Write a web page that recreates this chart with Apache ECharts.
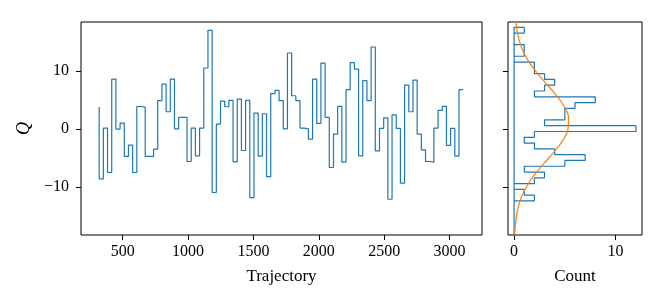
<!DOCTYPE html>
<html><head><meta charset="utf-8">
<script src="https://cdn.jsdelivr.net/npm/echarts@6/dist/echarts.min.js"></script>
<style>html,body{margin:0;padding:0;background:#fff}#c{width:664px;height:302px}</style>
</head><body><div id="c"></div>
<script>
// Trajectory numbers (x) and topological charge Q (y)
const trajectory = [
  320,352,384,416,448,480,512,544,576,608,
  640,672,704,736,768,800,832,864,896,928,
  960,992,1024,1056,1088,1120,1152,1184,1216,1248,
  1280,1312,1344,1376,1408,1440,1472,1504,1536,1568,
  1600,1632,1664,1696,1728,1760,1792,1824,1856,1888,
  1920,1952,1984,2016,2048,2080,2112,2144,2176,2208,
  2240,2272,2304,2336,2368,2400,2432,2464,2496,2528,
  2560,2592,2624,2656,2688,2720,2752,2784,2816,2848,
  2880,2912,2944,2976,3008,3040,3072,3104
];
const charge = [
  3.8, -8.6, 0.17, -7.5, 8.64, 0.0, 1.03, -4.73, -2.77, -7.5,
  3.9, 3.8, -4.73, -4.73, -3.47, 4.9, 7.78, 2.99, 8.64, 0.05,
  2.01, 2.01, -5.6, 0.17, -4.62, 0.17, 10.55, 17.07, -10.96, 0.86,
  4.84, 3.86, 4.95, -5.66, 5.18, -3.7, 4.95, -11.83, 2.76, -4.68,
  2.65, -8.2, 6.11, 6.68, 4.9, 0.05, 13.14, 5.76, 4.9, 0.17,
  0.05, -1.74, 8.64, 0.97, 11.41, 2.01, -6.64, -0.87, 3.92, -5.71,
  6.8, 11.47, 10.37, -4.62, 8.36, 4.9, 14.18, -3.75, 0.11, 1.95,
  -12.12, 2.47, 0.11, -9.35, 7.61, 2.99, 8.47, -0.87, -3.58, -5.6,
  -5.71, 0.17, 3.22, 3.92, -2.83, 0.11, -4.68, 6.8
];
// Histogram of Q (horizontal): bin edges (Q) and counts per bin
const binEdges = [
  -18.42,-17.42,-16.42,-15.42,-14.42,-13.42,-12.42,-11.42,-10.42,-9.42,
  -8.42,-7.42,-6.42,-5.42,-4.42,-3.42,-2.42,-1.42,-0.42,0.58,
  1.58,2.58,3.58,4.58,5.58,6.58,7.58,8.58,9.58,10.58,
  11.58,12.58,13.58,14.58,15.58,16.58,17.58
];
const binCounts = [
  0,0,0,0,0,0,2,1,0,2,
  3,1,5,7,4,2,1,2,12,3,
  5,5,6,8,2,3,4,3,2,2,
  0,1,1,0,0,1
];
// Orange curve: Q positions and counts
const curveQ = [-19,-18,-16,-14,-12,-10,-8,-6,-4,-2,0,2,4,6,8,10,12,14,16,18,19];
const curveCount = [0.04,0.07,0.16,0.34,0.67,1.2,1.96,2.91,3.92,4.78,5.31,5.36,4.9,4.08,3.08,2.12,1.32,0.75,0.4,0.2,0.14];
// Tick labels
const trajTicks = [500,1000,1500,2000,2500,3000];
const qTicks = [-10,0,10];
const countTicks = [0,10];

const FONT = 'Liberation Serif';
const BLUE = '#1f77b4', ORANGE = '#ff7f0e';
const fmt = v => (v < 0 ? '\u2212' + Math.abs(v) : String(v));

const stepData = trajectory.map((t, i) => [t, charge[i]]);
const histOutline = [[0, binEdges[0]]];
for (let i = 0; i < binCounts.length; i++) {
  histOutline.push([binCounts[i], binEdges[i]]);
  histOutline.push([binCounts[i], binEdges[i + 1]]);
}
histOutline.push([0, binEdges[binEdges.length - 1]]);
histOutline.push([0, binEdges[0]]);
const curveData = curveQ.map((q, i) => [curveCount[i], q]);

function xAx(grid, min, max, ticks, name) {
  return {
    type: 'value', gridIndex: grid, min: min, max: max, position: 'bottom',
    name: name, nameLocation: 'middle', nameGap: 33,
    nameTextStyle: { fontFamily: FONT, fontSize: 17, color: '#000' },
    axisLine: { show: false, onZero: false },
    axisTick: { show: true, length: 5, lineStyle: { color: '#000', width: 1 }, customValues: ticks },
    axisLabel: { customValues: ticks, margin: 9, color: '#000', fontFamily: FONT, fontSize: 16, formatter: fmt },
    splitLine: { show: false }
  };
}
function yAx(grid, showLabels, name) {
  return {
    type: 'value', gridIndex: grid, min: -18.3, max: 18.5, position: 'left',
    name: name, nameLocation: 'middle', nameGap: 48, nameRotate: 90,
    nameTextStyle: { fontFamily: FONT, fontSize: 18, fontStyle: 'italic', color: '#000' },
    axisLine: { show: false, onZero: false },
    axisTick: { show: true, length: 5, lineStyle: { color: '#000', width: 1 }, customValues: qTicks },
    axisLabel: { show: showLabels, customValues: qTicks, margin: 12, color: '#000', fontFamily: FONT, fontSize: 16, formatter: fmt },
    splitLine: { show: false }
  };
}

const chart = echarts.init(document.getElementById('c'), null, { renderer: 'canvas' });
chart.setOption({
  animation: false,
  backgroundColor: '#fff',
  grid: [
    { left: 81, right: 182, top: 22, bottom: 67, show: true, borderColor: '#000', borderWidth: 1, containLabel: false },
    { left: 508, right: 22, top: 22, bottom: 67, show: true, borderColor: '#000', borderWidth: 1, containLabel: false }
  ],
  xAxis: [
    xAx(0, 181, 3248, trajTicks, 'Trajectory'),
    xAx(1, -0.6, 12.6, countTicks, 'Count')
  ],
  yAxis: [
    yAx(0, true, 'Q'),
    yAx(1, false, '')
  ],
  series: [
    { type: 'line', xAxisIndex: 0, yAxisIndex: 0, data: stepData, step: 'start', showSymbol: false,
      lineStyle: { color: BLUE, width: 1.2 }, clip: true },
    { type: 'line', xAxisIndex: 1, yAxisIndex: 1, data: histOutline, showSymbol: false,
      lineStyle: { color: BLUE, width: 1.2 }, clip: true },
    { type: 'line', xAxisIndex: 1, yAxisIndex: 1, data: curveData, showSymbol: false, smooth: 0.4,
      lineStyle: { color: ORANGE, width: 1.2 }, clip: true, z: 3 }
  ]
});
</script></body></html>
